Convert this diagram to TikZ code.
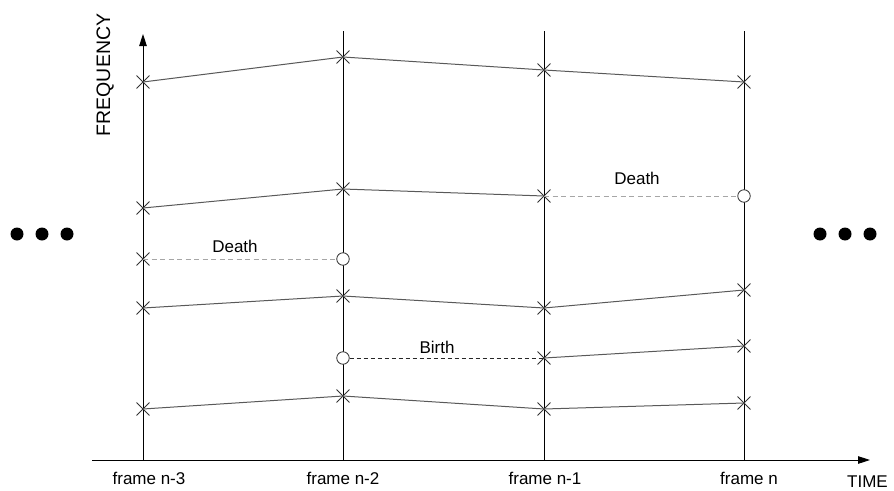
\documentclass[tikz,border=0pt]{standalone}
\usepackage{fontspec}
\setmainfont{Liberation Sans}
\usetikzlibrary{shapes.misc,arrows.meta}
\begin{document}
\begin{tikzpicture}[x=1pt,y=-1pt,
  xmark/.style={cross out,draw=black!80,line width=0.9pt,minimum size=12pt,inner sep=0pt},
  omark/.style={circle,draw=black!80,line width=0.8pt,fill=white,minimum size=12.5pt,inner sep=0pt},
  track/.style={draw=black!65,line width=1pt},
  frameline/.style={draw=black,line width=0.9pt},
  deathline/.style={draw=black!35,line width=0.9pt,dash pattern=on 5pt off 3.5pt},
  birthline/.style={draw=black!85,line width=0.9pt,dash pattern=on 4pt off 3pt},
  lbl/.style={font=\fontsize{17}{20}\selectfont,inner sep=0pt},
  dot/.style={circle,fill=black,minimum size=13pt,inner sep=0pt}]
\useasboundingbox (0,0) rectangle (894,490);

% axes
\coordinate (yb) at (143,460);
\coordinate (yt) at (143,34);
\coordinate (xl) at (92,460);
\coordinate (xr) at (870,460);
\draw[frameline,-{Triangle[length=12pt,width=7.5pt]}] (yb) -- (yt);
\draw[frameline,-{Triangle[length=12pt,width=7.5pt]}] (xl) -- (xr);

% vertical frame lines
\coordinate (f2t) at (343,31); \coordinate (f2b) at (343,460);
\coordinate (f1t) at (544,31); \coordinate (f1b) at (544,460);
\coordinate (f0t) at (744,31); \coordinate (f0b) at (744,460);
\draw[frameline] (f2t) -- (f2b);
\draw[frameline] (f1t) -- (f1b);
\draw[frameline] (f0t) -- (f0b);

% axis labels
\node[lbl,font=\fontsize{19.5}{22}\selectfont,rotate=90,anchor=base] (flab) at (110,75) {FREQUENCY};
\node[lbl,anchor=base west] (tlab) at (847,487) {TIME};

% frame labels
\node[lbl,anchor=base] (l3) at (149,484) {frame n-3};
\node[lbl,anchor=base] (l2) at (343,484) {frame n-2};
\node[lbl,anchor=base] (l1) at (545,484) {frame n-1};
\node[lbl,anchor=base] (l0) at (749,484) {frame n};

% track 1
\node[xmark] (a3) at (143,82) {};
\node[xmark] (a2) at (343,57) {};
\node[xmark] (a1) at (544,70) {};
\node[xmark] (a0) at (744,82) {};
% track 2 (dies after frame n-1)
\node[xmark] (b3) at (143,208) {};
\node[xmark] (b2) at (343,189) {};
\node[xmark] (b1) at (544,196) {};
\node[omark] (b0) at (744,196) {};
% track 3 (dies after frame n-3)
\node[xmark] (c3m) at (143,259) {};
\node[omark] (c2m) at (343,259) {};
% track 4
\node[xmark] (d3) at (143,308) {};
\node[xmark] (d2) at (343,296) {};
\node[xmark] (d1) at (544,308) {};
\node[xmark] (d0) at (744,290) {};
% track 5 (born at frame n-1)
\node[omark] (e2) at (343,358) {};
\node[xmark] (e1) at (544,358) {};
\node[xmark] (e0) at (744,346) {};
% track 6
\node[xmark] (g3) at (143,409) {};
\node[xmark] (g2) at (343,396) {};
\node[xmark] (g1) at (544,409) {};
\node[xmark] (g0) at (744,403) {};

% partial tracks and their connecting segments
\draw[track] (a3.center) -- (a2.center) -- (a1.center) -- (a0.center);
\draw[track] (b3.center) -- (b2.center) -- (b1.center);
\draw[deathline] (b1.center) -- (b0);
\draw[deathline] (c3m.center) -- (c2m);
\draw[track] (d3.center) -- (d2.center) -- (d1.center) -- (d0.center);
\draw[birthline] (e2) -- (e1.center);
\draw[track] (e1.center) -- (e0.center);
\draw[track] (g3.center) -- (g2.center) -- (g1.center) -- (g0.center);

% event labels
\node[lbl] (dl1) at (235,246) {Death};
\node[lbl] (dl2) at (637,178) {Death};
\node[lbl] (bl) at (437,347) {Birth};

% continuation dots
\node[dot] (p1) at (17,234) {};
\node[dot] (p2) at (42,234) {};
\node[dot] (p3) at (67,234) {};
\node[dot] (q1) at (820,234) {};
\node[dot] (q2) at (845,234) {};
\node[dot] (q3) at (870,234) {};
\end{tikzpicture}
\end{document}
